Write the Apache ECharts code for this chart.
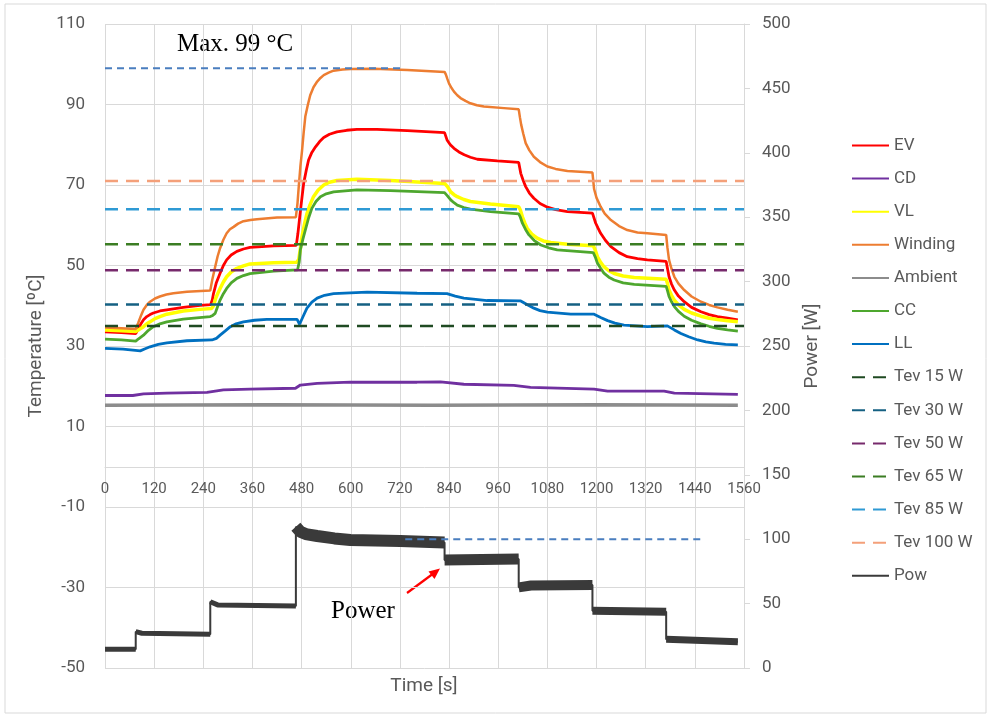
<!DOCTYPE html>
<html>
<head>
<meta charset="utf-8">
<title>Temperature and power</title>
<script src="https://cdn.jsdelivr.net/npm/echarts@6/dist/echarts.min.js"></script>
<style>
  html, body { margin: 0; padding: 0; background: #fff; }
  #chart { width: 991px; height: 715px; }
</style>
</head>
<body>
<div id="chart"></div>
<script>
// temperatures, [time s, °C]
const ev = [[0,33.5],[40,33.3],[75,33.1],[80,34.0],[87,35.4],[94,36.5],[102,37.3],[110,37.8],[118,38.2],[134,38.7],[151,39.0],[191,39.6],[232,40.1],[258,40.3],[262,41.5],[265,43.1],[272,45.8],[281,48.1],[289,50.0],[297,51.4],[308,52.6],[322,53.5],[338,54.1],[354,54.5],[412,54.9],[467,55.0],[471,58.0],[477,63.5],[481,67.0],[485,70.4],[491,73.5],[497,76.2],[505,78.1],[514,79.5],[524,80.8],[534,81.8],[548,82.6],[566,83.2],[590,83.6],[615,83.8],[664,83.8],[738,83.5],[829,83.0],[835,81.2],[843,80.0],[852,79.1],[864,78.2],[877,77.5],[892,76.9],[909,76.4],[958,76.0],[1010,75.6],[1015,72.9],[1021,71.1],[1027,69.6],[1036,68.0],[1047,66.7],[1062,65.4],[1080,64.5],[1100,63.9],[1129,63.4],[1190,63.0],[1198,60.5],[1204,59.2],[1210,58.0],[1222,56.2],[1235,54.7],[1255,53.2],[1275,52.2],[1300,51.7],[1324,51.4],[1370,51.0],[1377,47.2],[1383,45.4],[1390,43.9],[1400,42.4],[1414,41.0],[1432,39.6],[1455,38.5],[1475,37.8],[1495,37.3],[1520,36.9],[1545,36.5]]
const cd = [[0,17.7],[68,17.7],[94,18.1],[151,18.3],[249,18.5],[289,19.1],[354,19.3],[465,19.5],[477,20.3],[518,20.7],[599,21.0],[762,21.0],[819,21.1],[876,20.5],[998,20.2],[1039,19.7],[1194,19.3],[1227,18.8],[1365,18.8],[1390,18.3],[1545,18.0]]
const vl = [[0,34.0],[40,33.8],[75,33.6],[82,34.0],[94,34.8],[102,35.5],[110,36.0],[122,36.8],[134,37.3],[151,37.9],[191,38.7],[232,39.1],[260,39.3],[265,40.0],[270,41.8],[276,43.2],[281,44.3],[289,45.9],[297,47.2],[308,48.4],[322,49.3],[338,49.9],[354,50.4],[412,50.7],[468,50.8],[473,51.5],[477,54.2],[481,57.2],[487,60.3],[493,62.9],[501,65.2],[509,67.1],[520,68.7],[534,70.0],[548,70.7],[566,71.1],[615,71.4],[697,71.1],[829,70.4],[836,69.6],[844,68.3],[852,67.6],[860,67.1],[876,66.4],[892,65.9],[941,65.3],[1010,64.6],[1014,63.8],[1019,62.1],[1025,60.5],[1031,59.2],[1042,57.8],[1055,56.8],[1070,56.1],[1088,55.7],[1129,55.3],[1192,54.9],[1197,53.8],[1202,52.2],[1210,50.8],[1218,49.7],[1230,48.7],[1243,48.0],[1265,47.4],[1292,47.0],[1370,46.6],[1373,45.6],[1377,43.9],[1383,42.6],[1390,41.4],[1400,40.2],[1414,39.1],[1432,38.2],[1455,37.4],[1475,36.9],[1495,36.6],[1520,36.3],[1545,36.0]]
const winding = [[0,34.6],[40,34.4],[75,34.2],[81,35.7],[88,37.6],[94,39.0],[102,40.2],[110,41.0],[122,41.8],[134,42.3],[150,42.8],[167,43.1],[200,43.5],[257,43.8],[262,46.5],[269,49.7],[275,52.3],[281,54.3],[289,56.4],[297,58.0],[305,59.0],[314,59.6],[325,60.4],[338,61.0],[355,61.3],[371,61.5],[420,61.9],[466,62.0],[470,65.5],[473,69.6],[477,74.6],[481,78.5],[485,83.0],[489,87.0],[495,89.8],[501,92.3],[509,94.3],[518,95.7],[526,96.6],[534,97.3],[546,97.9],[558,98.4],[580,98.7],[600,98.8],[656,98.9],[738,98.6],[829,98.1],[832,97.5],[836,96.3],[840,95.2],[846,94.1],[852,93.2],[860,92.3],[868,91.6],[880,90.9],[892,90.3],[908,89.8],[925,89.5],[974,89.1],[1010,88.8],[1013,86.8],[1016,85.0],[1021,82.8],[1027,80.4],[1036,78.6],[1047,77.0],[1062,75.7],[1080,74.6],[1100,74.0],[1129,73.5],[1190,73.1],[1194,69.0],[1200,66.8],[1210,64.6],[1220,62.9],[1235,61.3],[1255,59.8],[1275,58.8],[1300,58.2],[1324,58.0],[1370,57.6],[1373,54.5],[1377,51.4],[1383,49.2],[1390,47.2],[1400,45.5],[1414,43.9],[1432,42.3],[1455,41.0],[1475,40.2],[1495,39.6],[1520,39.0],[1545,38.5]]
const ambient = [[0,15.3],[400,15.4],[800,15.3],[1200,15.4],[1545,15.3]]
const cc = [[0,31.7],[40,31.5],[75,31.2],[82,31.8],[94,32.7],[106,33.9],[118,34.8],[134,35.5],[151,36.0],[191,36.7],[257,37.3],[263,37.6],[269,38.1],[275,39.8],[281,41.4],[289,43.0],[297,44.3],[308,45.7],[322,46.8],[338,47.5],[354,48.0],[412,48.6],[470,48.9],[474,50.8],[477,53.9],[483,56.5],[489,58.8],[497,61.8],[505,64.2],[515,65.9],[526,67.1],[540,67.8],[558,68.3],[615,68.8],[697,68.6],[829,68.1],[836,67.3],[844,66.3],[852,65.6],[860,65.0],[876,64.4],[892,64.0],[941,63.4],[1010,62.8],[1014,62.0],[1019,60.5],[1027,58.9],[1035,57.6],[1048,56.2],[1064,55.1],[1083,54.4],[1104,53.9],[1192,53.2],[1197,52.1],[1202,50.6],[1210,49.3],[1218,48.1],[1230,47.1],[1243,46.4],[1265,45.7],[1292,45.3],[1370,44.8],[1373,43.8],[1377,42.3],[1383,41.0],[1390,39.8],[1400,38.6],[1414,37.4],[1432,36.4],[1455,35.5],[1475,34.9],[1495,34.4],[1520,34.0],[1545,33.7]]
const ll = [[0,29.4],[44,29.2],[86,28.8],[98,29.3],[110,29.8],[130,30.4],[151,30.8],[200,31.3],[261,31.5],[265,31.2],[272,31.9],[281,32.7],[293,33.7],[306,34.8],[320,35.5],[338,36.0],[365,36.4],[395,36.6],[469,36.6],[475,35.4],[483,37.2],[493,39.4],[505,40.9],[518,41.9],[536,42.6],[558,43.0],[640,43.4],[762,43.1],[835,43.0],[855,42.4],[876,41.9],[905,41.6],[933,41.3],[1015,41.2],[1030,40.3],[1047,39.4],[1062,38.8],[1080,38.4],[1137,37.9],[1194,37.9],[1210,37.1],[1227,36.3],[1245,35.7],[1267,35.2],[1324,34.8],[1373,35.0],[1390,34.0],[1406,33.1],[1425,32.3],[1447,31.5],[1467,31.0],[1487,30.7],[1515,30.4],[1545,30.3]]

// evaporator temperature levels per load, °C
const tevNames = ['Tev 15 W', 'Tev 30 W', 'Tev 50 W', 'Tev 65 W', 'Tev 85 W', 'Tev 100 W']
const tevValues = [35.0, 40.3, 48.8, 55.3, 64.0, 71.0]
const tevColors = ['#1f4a22', '#156082', '#772a6c', '#3b7d23', '#2f9ad4', '#f4a07a']

// power, [time s, W]; repeated times are the load steps
const pow = [[0,14.5],[75,14.5],[75,28.2],[90,27.0],[257,26.2],[257,51.5],[275,49.0],[466,48.1],[466,109.7],[477,105.8],[490,104.0],[518,102.5],[560,100.6],[599,99.4],[721,98.6],[829,97.5],[829,83.9],[1010,84.6],[1010,62.6],[1040,64.0],[1190,64.4],[1190,44.5],[1370,43.7],[1370,22.3],[1545,20.4]]
// apparent thickness of the noisy power trace on each level (px)
const powBandWidths = [5, 5, 5, 12, 11, 10, 8, 7]

// reference lines
const maxTempLine = [[0,99],[721,99]]
const maxPowLine = [[733,100],[1462,100]]
const timeSpan = [0, 1560]

const grey = '#595959'
const gridGrey = '#d9d9d9'
const sans = 'Roboto'
const powColor = '#3a3a3a'

const chart = echarts.init(document.getElementById('chart'))

function solid(name, data, color, width) {
  return {
    name, type: 'line', data, yAxisIndex: 0,
    symbol: 'none', color,
    lineStyle: { color, width: width || 2.5 }
  }
}

const series = [
  solid('EV', ev, '#ff0000', 2.8),
  solid('CD', cd, '#7030a0', 2.8),
  solid('VL', vl, '#ffff00', 3.5),
  solid('Winding', winding, '#ed7d31', 2.5),
  solid('Ambient', ambient, '#8c8c8c', 3.5),
  solid('CC', cc, '#4ea72e', 2.8),
  solid('LL', ll, '#0070c0', 2.8)
]

tevNames.forEach((n, i) => {
  series.push({
    name: n, type: 'line', yAxisIndex: 0, symbol: 'none', color: tevColors[i],
    data: timeSpan.map(t => [t, tevValues[i]]),
    lineStyle: { color: tevColors[i], width: 2.5, type: [13, 8] }
  })
})

// power: thin trace for steps + thicker band on every level
series.push({
  name: 'Pow', type: 'line', yAxisIndex: 1, data: pow, symbol: 'none', color: powColor,
  lineStyle: { color: powColor, width: 2 }
})
const levels = []
pow.forEach((p, i) => {
  if (i === 0 || p[0] === pow[i - 1][0]) levels.push([])
  levels[levels.length - 1].push(p)
})
levels.forEach((lv, i) => {
  series.push({
    name: 'powBand' + i, type: 'line', yAxisIndex: 1, data: lv, symbol: 'none',
    lineStyle: { color: powColor, width: powBandWidths[i], cap: 'butt' }, silent: true
  })
})

// max markers, not in legend
series.push({
  name: 'maxT', type: 'line', yAxisIndex: 0, data: maxTempLine, symbol: 'none',
  lineStyle: { color: '#4a7ebf', width: 2, type: [7, 5] }, z: 3
})
series.push({
  name: 'maxP', type: 'line', yAxisIndex: 1, data: maxPowLine, symbol: 'none',
  lineStyle: { color: '#4a7ebf', width: 2, type: [7, 5] }, z: 3
})

const option = {
  animation: false,
  backgroundColor: '#fff',
  grid: { left: 105, right: 247, top: 24, bottom: 47 },
  xAxis: {
    type: 'value', min: 0, max: 1560, interval: 120,
    position: 'bottom', offset: -201,
    axisLine: { onZero: false, lineStyle: { color: gridGrey, width: 1 } },
    axisTick: { show: false },
    axisLabel: { color: grey, fontSize: 15, fontFamily: sans, margin: 15, formatter: v => String(v) },
    splitLine: { show: true, lineStyle: { color: gridGrey, width: 1 } }
  },
  yAxis: [
    {
      type: 'value', min: -50, max: 110, interval: 20,
      name: 'Temperature [ºC]', nameLocation: 'middle', nameGap: 57,
      nameTextStyle: { color: grey, fontSize: 19, fontFamily: sans },
      axisLine: { show: false }, axisTick: { show: false },
      axisLabel: { color: grey, fontSize: 17, fontFamily: sans, margin: 20 },
      splitLine: { show: true, lineStyle: { color: gridGrey, width: 1 } }
    },
    {
      type: 'value', min: 0, max: 500, interval: 50, position: 'right',
      name: 'Power [W]', nameLocation: 'middle', nameGap: 59,
      nameTextStyle: { color: grey, fontSize: 19, fontFamily: sans },
      axisLine: { show: true, lineStyle: { color: gridGrey, width: 1 } },
      axisTick: { show: true, inside: false, length: 6, lineStyle: { color: gridGrey } },
      axisLabel: { color: grey, fontSize: 17, fontFamily: sans, margin: 18 },
      splitLine: { show: false }
    }
  ],
  legend: {
    orient: 'vertical', left: 851, top: 137, padding: 0,
    itemWidth: 37, itemHeight: 17, itemGap: 16.1,
    itemStyle: { opacity: 0 },
    textStyle: { color: grey, fontSize: 17, fontFamily: sans, lineHeight: 17 },
    data: ['EV', 'CD', 'VL', 'Winding', 'Ambient', 'CC', 'LL'].concat(tevNames, ['Pow'])
  },
  graphic: [
    { type: 'rect', shape: { x: 5, y: 4, width: 981, height: 709 },
      style: { fill: 'none', stroke: gridGrey, lineWidth: 1 }, silent: true, z: -1 },
    { type: 'text', x: 424, y: 686,
      style: { text: 'Time [s]', fill: grey, font: '19px ' + sans, align: 'center', verticalAlign: 'middle' } },
    { type: 'text', x: 177, y: 44,
      style: { text: 'Max. 99 °C', fill: '#000', font: '25px "Liberation Serif"', verticalAlign: 'middle' } },
    { type: 'text', x: 331, y: 611,
      style: { text: 'Power', fill: '#000', font: '25px "Liberation Serif"', verticalAlign: 'middle' } },
    { type: 'line', shape: { x1: 407, y1: 593, x2: 434, y2: 573 },
      style: { stroke: '#ff0000', lineWidth: 2.2 } },
    { type: 'polygon', shape: { points: [[440, 568.5], [428.5, 571.5], [434.5, 579]] },
      style: { fill: '#ff0000' } }
  ],
  series
}

chart.setOption(option)
</script>
</body>
</html>
